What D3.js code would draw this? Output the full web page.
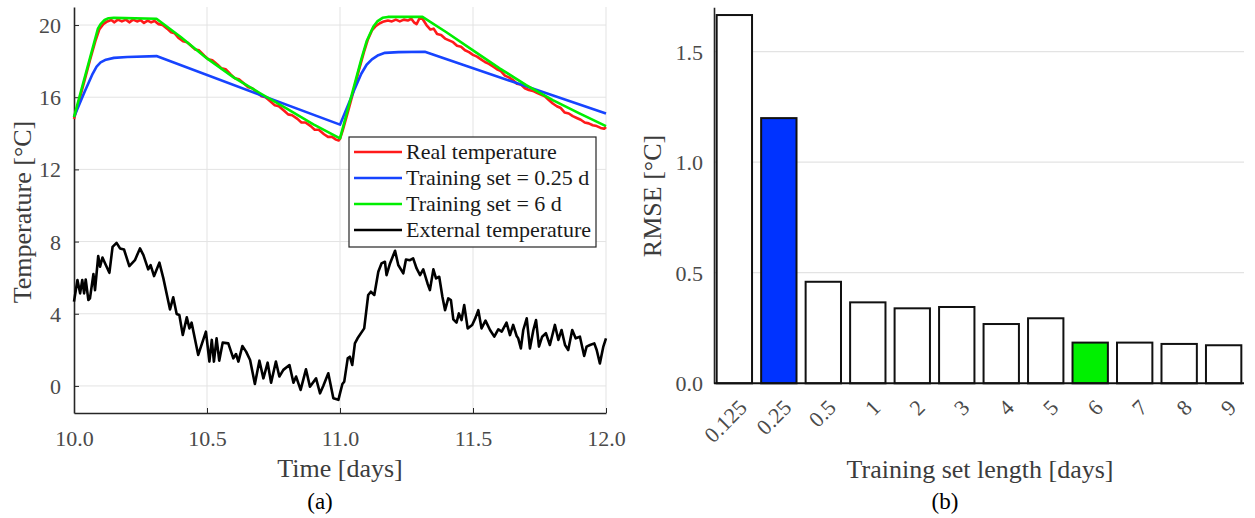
<!DOCTYPE html>
<html><head><meta charset="utf-8">
<script src="https://cdn.jsdelivr.net/npm/d3@7"></script>
<style>
html,body{margin:0;padding:0;background:#fff;}
svg{display:block;}
text{font-family:"Liberation Serif","Times New Roman",serif;}
</style></head>
<body>
<svg id="c" width="1255" height="518"></svg>
<script>
// ---------- Panel (a) data ----------
const xTicksA = [10.0, 10.5, 11.0, 11.5, 12.0];
const yTicksA = [0, 4, 8, 12, 16, 20];

const realT = [10.000,10.02,10.04,10.06,10.08,10.095,10.11,10.125,10.14,10.152,10.165,10.18,10.195,10.208,10.222,10.237,10.25,10.263,10.277,10.29,10.303,10.318,10.333,10.35,10.365,10.378,10.392,10.41,10.425,10.44,10.455,10.47,10.49,10.505,10.52,10.54,10.555,10.57,10.59,10.605,10.62,10.64,10.655,10.67,10.69,10.705,10.72,10.74,10.755,10.77,10.79,10.805,10.82,10.84,10.855,10.87,10.89,10.905,10.92,10.94,10.955,10.97,10.985,10.995,11.0,
11.01,11.03,11.05,11.07,11.09,11.105,11.12,11.135,11.15,11.165,11.18,11.195,11.21,11.225,11.24,11.255,11.268,11.278,11.288,11.298,11.31,11.325,11.34,11.352,11.365,11.38,11.395,11.41,11.425,11.44,11.455,11.47,11.485,11.50,11.515,11.53,11.545,11.56,11.575,11.59,11.605,11.62,11.635,11.65,11.665,11.68,11.695,11.71,11.725,11.74,11.755,11.77,11.785,11.80,11.815,11.83,11.845,11.86,11.875,11.89,11.905,11.92,11.935,11.95,11.965,11.98,11.993,12.0];
const realV = [14.8,15.85,16.95,18.05,19.1,19.75,20.05,20.2,20.28,20.15,20.3,20.2,20.3,20.15,20.3,20.2,20.28,20.12,20.25,20.15,20.22,20.05,20.0,19.8,19.6,19.55,19.3,19.1,19.05,18.85,18.65,18.6,18.3,18.1,18.05,17.8,17.6,17.55,17.25,17.05,17.0,16.75,16.55,16.5,16.25,16.05,16.0,15.75,15.55,15.5,15.25,15.05,15.0,14.8,14.6,14.6,14.4,14.2,14.2,13.95,13.8,13.8,13.65,13.6,13.7,
14.15,15.2,16.3,17.45,18.5,19.2,19.7,19.95,20.1,20.2,20.25,20.2,20.3,20.2,20.3,20.25,20.35,20.15,20.05,20.35,20.35,20.0,19.75,19.8,19.5,19.45,19.25,19.15,19.05,18.85,18.8,18.6,18.5,18.35,18.25,18.1,17.95,17.85,17.7,17.55,17.45,17.2,17.1,16.95,16.75,16.7,16.5,16.4,16.35,16.25,16.15,16.05,15.85,15.65,15.5,15.4,15.15,15.1,14.95,14.85,14.75,14.6,14.55,14.45,14.4,14.3,14.25,14.35];

const shortT = [10.0,10.04,10.07,10.085,10.1,10.12,10.15,10.2,10.31,11.0,11.056,11.08,11.1,11.12,11.144,11.169,11.22,11.319,12.0];
const shortV = [14.9,16.3,17.3,17.7,17.93,18.08,18.18,18.23,18.28,14.48,16.49,17.3,17.8,18.1,18.33,18.46,18.5,18.52,15.1];

const longT = [10.0,10.09,10.1,10.115,10.13,10.15,10.31,10.4,10.5,10.6,10.7,10.8,10.9,11.0,11.08,11.1,11.125,11.14,11.16,11.18,11.31,11.4,11.5,11.6,11.7,11.8,11.9,12.0];
const longV = [14.9,19.8,20.05,20.28,20.38,20.4,20.35,19.35,18.15,17.1,16.22,15.37,14.5,13.72,18.1,19.1,19.9,20.2,20.4,20.45,20.45,19.6,18.6,17.6,16.67,15.84,15.1,14.4];

const extT = [10.000,10.013,10.023,10.031,10.038,10.044,10.054,10.060,10.073,10.079,10.091,10.098,10.107,10.117,10.133,10.145,10.160,10.173,10.188,10.208,10.229,10.248,10.261,10.279,10.288,10.301,10.321,10.336,10.361,10.373,10.386,10.396,10.409,10.424,10.434,10.442,10.467,10.496,10.509,10.518,10.526,10.536,10.546,10.559,10.580,10.599,10.609,10.618,10.633,10.647,10.662,10.680,10.697,10.712,10.728,10.741,10.759,10.772,10.787,10.810,10.825,10.835,10.852,10.872,10.887,10.910,10.925,10.937,10.956,10.975,10.994,
11.000,11.009,11.016,11.029,11.037,11.046,11.056,11.066,11.091,11.106,11.116,11.129,11.144,11.156,11.169,11.175,11.188,11.207,11.219,11.238,11.248,11.263,11.275,11.288,11.301,11.313,11.329,11.338,11.351,11.361,11.373,11.385,11.395,11.407,11.417,11.426,11.438,11.447,11.457,11.467,11.480,11.497,11.510,11.520,11.532,11.547,11.564,11.580,11.595,11.608,11.626,11.639,11.651,11.664,11.670,11.680,11.689,11.702,11.714,11.727,11.737,11.748,11.760,11.774,11.789,11.808,11.821,11.833,11.846,11.858,11.873,11.886,11.902,11.918,11.927,11.940,11.956,11.965,11.977,11.990,12.000];
const extV = [4.67,5.87,5.13,5.87,5.13,5.90,4.76,4.85,6.20,5.31,7.20,6.61,7.12,6.79,6.27,7.71,7.93,7.62,7.56,6.64,6.97,7.62,7.25,6.46,6.70,6.09,6.83,5.96,4.24,4.91,3.99,3.93,2.82,3.80,3.19,3.51,1.72,3.01,1.35,2.55,1.35,2.64,1.40,2.40,2.36,1.53,1.77,1.35,2.21,1.90,1.44,0.11,1.40,0.42,1.29,0.18,1.35,0.52,0.89,1.16,0.18,0.52,-0.22,0.92,-0.04,0.42,-0.41,0.00,0.70,-0.68,-0.77,
-0.41,0.11,0.24,1.53,1.62,1.16,2.36,2.64,3.19,5.04,5.22,5.04,6.33,6.79,6.88,6.14,6.79,7.49,6.70,6.24,7.01,6.97,7.07,6.51,6.14,6.46,5.68,5.31,6.46,5.96,6.05,4.94,4.20,4.85,4.76,3.69,3.51,4.02,3.65,4.48,3.19,3.38,3.80,4.20,3.19,3.62,3.10,2.73,3.14,3.01,3.51,2.82,3.38,2.77,2.64,2.08,3.10,3.75,2.08,3.10,3.65,2.18,2.73,2.92,2.27,3.38,2.55,3.10,2.27,1.99,3.10,2.64,2.73,1.66,2.18,2.27,2.36,1.99,1.25,2.18,2.64];

const legendLabels = ["Real temperature", "Training set = 0.25 d", "Training set = 6 d", "External temperature"];

// ---------- Panel (b) data ----------
const lengths = ["0.125","0.25","0.5","1","2","3","4","5","6","7","8","9"];
const rmse = [1.665,1.199,0.459,0.366,0.339,0.345,0.268,0.294,0.184,0.184,0.178,0.172];
const yTicksB = [0.0, 0.5, 1.0, 1.5];

// ---------- styles ----------
const colReal = "#ff1a1a", colShort = "#1744ff", colLong = "#00ee00", colExt = "#000000";
const gridCol = "#e3e3e3", axisCol = "#262626", tickTxt = "#4a4a4a", labTxt = "#3c3c3c";
const serif = '"Liberation Serif","Times New Roman",serif';

const svg = d3.select("#c");
svg.append("rect").attr("width",1255).attr("height",518).attr("fill","#fff");

// ================= Panel (a) =================
const xA = d3.scaleLinear().domain([10,12]).range([74,606]);
const yA = d3.scaleLinear().domain([-1.5,21]).range([413,7]);
const gA = svg.append("g");

gA.append("g").selectAll("line").data(xTicksA.slice(1)).join("line")
  .attr("x1",d=>xA(d)).attr("x2",d=>xA(d)).attr("y1",yA.range()[0]).attr("y2",yA.range()[1])
  .attr("stroke",gridCol).attr("stroke-width",1);
gA.append("g").selectAll("line").data(yTicksA).join("line")
  .attr("x1",xA.range()[0]).attr("x2",xA.range()[1]).attr("y1",d=>yA(d)).attr("y2",d=>yA(d))
  .attr("stroke",gridCol).attr("stroke-width",1);

const axB = gA.append("g").attr("transform",`translate(0,${yA.range()[0]})`)
  .call(d3.axisBottom(xA).tickValues(xTicksA).tickFormat(d3.format(".1f")).tickSizeInner(-5).tickSizeOuter(0).tickPadding(17));
const axL = gA.append("g").attr("transform",`translate(${xA.range()[0]},0)`)
  .call(d3.axisLeft(yA).tickValues(yTicksA).tickFormat(d3.format("d")).tickSizeInner(-5).tickSizeOuter(0).tickPadding(13));
[axB, axL].forEach(a=>{
  a.attr("font-family",serif);
  a.select(".domain").attr("stroke",axisCol).attr("stroke-width",1.6);
  a.selectAll(".tick line").attr("stroke",axisCol).attr("stroke-width",1);
  a.selectAll(".tick text").attr("fill",tickTxt).attr("font-size",22);
});
axL.selectAll(".tick text").attr("dy","0.34em");

const zip = (T,V)=>T.map((t,i)=>[t,V[i]]);
const lineLin = d3.line().x(d=>xA(d[0])).y(d=>yA(d[1]));
const lw = 2.6;
gA.append("path").datum(zip(realT,realV)).attr("d",lineLin).attr("fill","none").attr("stroke",colReal).attr("stroke-width",lw).attr("stroke-linejoin","round");
gA.append("path").datum(zip(shortT,shortV)).attr("d",lineLin).attr("fill","none").attr("stroke",colShort).attr("stroke-width",lw).attr("stroke-linejoin","round");
gA.append("path").datum(zip(longT,longV)).attr("d",lineLin).attr("fill","none").attr("stroke",colLong).attr("stroke-width",lw).attr("stroke-linejoin","round");
gA.append("path").datum(zip(extT,extV)).attr("d",lineLin).attr("fill","none").attr("stroke",colExt).attr("stroke-width",lw).attr("stroke-linejoin","round");

const leg = gA.append("g");
leg.append("rect").attr("x",349).attr("y",137).attr("width",247).attr("height",110)
  .attr("fill","#fff").attr("stroke",axisCol).attr("stroke-width",1.2);
const legCols = [colReal,colShort,colLong,colExt];
legendLabels.forEach((lab,i)=>{
  const y = 152 + i*26;
  leg.append("line").attr("x1",354).attr("x2",402).attr("y1",y).attr("y2",y).attr("stroke",legCols[i]).attr("stroke-width",lw);
  leg.append("text").attr("x",406).attr("y",y).attr("dy","0.33em").attr("font-size",22).attr("fill","#1a1a1a").text(lab);
});

gA.append("text").attr("x",340).attr("y",477).attr("text-anchor","middle").attr("font-size",26).attr("fill",labTxt).text("Time [days]");
gA.append("text").attr("transform","translate(31,212) rotate(-90)").attr("text-anchor","middle").attr("font-size",26).attr("fill",labTxt).text("Temperature [°C]");
gA.append("text").attr("x",320).attr("y",509).attr("text-anchor","middle").attr("font-size",23).attr("fill","#000").text("(a)");

// ================= Panel (b) =================
const xB = d3.scaleBand().domain(lengths).range([714,1244]).paddingInner(0.205).paddingOuter(0.06);
const yB = d3.scaleLinear().domain([0,1.7]).range([383.3,7.3]);
const gB = svg.append("g");

gB.append("g").selectAll("line").data(yTicksB.slice(1)).join("line")
  .attr("x1",xB.range()[0]).attr("x2",xB.range()[1]).attr("y1",d=>yB(d)).attr("y2",d=>yB(d))
  .attr("stroke",gridCol).attr("stroke-width",1.2);

const barFill = d=> d==="0.25" ? "#0033ff" : (d==="6" ? "#00f000" : "#ffffff");
gB.append("g").selectAll("rect").data(lengths).join("rect")
  .attr("x",d=>xB(d)).attr("width",xB.bandwidth())
  .attr("y",(d,i)=>yB(rmse[i])).attr("height",(d,i)=>yB(0)-yB(rmse[i]))
  .attr("fill",barFill).attr("stroke","#111").attr("stroke-width",2);

const axBL = gB.append("g").attr("transform",`translate(${xB.range()[0]},0)`)
  .call(d3.axisLeft(yB).tickValues(yTicksB).tickFormat(d3.format(".1f")).tickSize(0).tickPadding(11));
axBL.attr("font-family",serif);
axBL.select(".domain").attr("stroke",axisCol).attr("stroke-width",1.6);
axBL.selectAll(".tick text").attr("fill",tickTxt).attr("font-size",22).attr("dy","0.34em");
gB.append("line").attr("x1",xB.range()[0]).attr("x2",xB.range()[1]).attr("y1",yB(0)).attr("y2",yB(0)).attr("stroke","#111").attr("stroke-width",2);

gB.append("g").selectAll("text").data(lengths).join("text")
  .attr("transform",d=>`translate(${xB(d)+xB.bandwidth()/2+14},409) rotate(-45)`)
  .attr("text-anchor","end").attr("font-size",22).attr("fill",tickTxt).text(d=>d);

gB.append("text").attr("x",980).attr("y",478).attr("text-anchor","middle").attr("font-size",26).attr("fill",labTxt).text("Training set length [days]");
gB.append("text").attr("transform","translate(661,196) rotate(-90)").attr("text-anchor","middle").attr("font-size",26).attr("fill",labTxt).text("RMSE [°C]");
gB.append("text").attr("x",945).attr("y",509).attr("text-anchor","middle").attr("font-size",23).attr("fill","#000").text("(b)");
</script>
</body></html>
